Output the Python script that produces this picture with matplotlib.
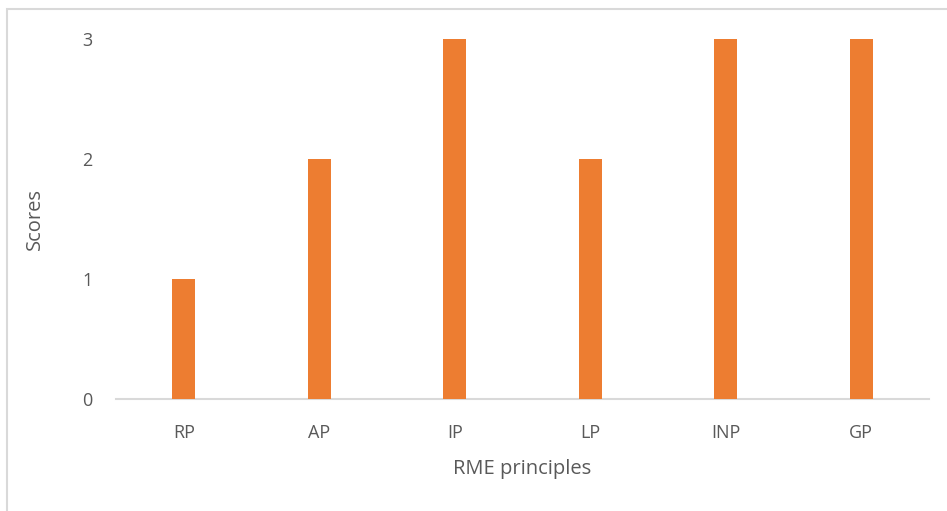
import matplotlib
matplotlib.use("Agg")
import matplotlib.pyplot as plt
from matplotlib.patches import Rectangle

# data
principles = ["RP", "AP", "IP", "LP", "INP", "GP"]
scores = [1, 2, 3, 2, 3, 3]
y_ticks = [0, 1, 2, 3]

bar_color = "#ED7D31"
text_color = "#595959"
line_color = "#D9D9D9"

plt.rcParams['font.family'] = ['Open Sans', 'DejaVu Sans']

fig = plt.figure(figsize=(9.47, 5.11), dpi=100)
W, H = 947, 511
ax = fig.add_axes([116 / W, 1 - 399 / H, (929 - 116) / W, (399 - 39) / H])

x = range(len(principles))
ax.bar(x, scores, width=0.173, color=bar_color, zorder=3)

ax.set_xlim(-0.5, len(principles) - 0.5)
ax.set_ylim(0, 3)
ax.set_yticks(y_ticks)
ax.set_xticks(list(x))
ax.set_xticklabels(principles)

for side in ["top", "right", "left"]:
    ax.spines[side].set_visible(False)
ax.spines["bottom"].set_color(line_color)
ax.spines["bottom"].set_linewidth(1.5)
ax.tick_params(length=0, colors=text_color, labelsize=13)
ax.tick_params(axis="y", pad=17)
ax.tick_params(axis="x", pad=18)

ax.set_ylabel("Scores", color=text_color, fontsize=14.5, labelpad=27)
ax.set_xlabel("RME principles", color=text_color, fontsize=14.5, labelpad=12)

# chart area border (runs past right/bottom edge)
fig.patches.append(Rectangle((7 / W, -0.1), 1.2, 1 - 9 / H + 0.1,
                             transform=fig.transFigure, fill=False,
                             edgecolor=line_color, linewidth=1.5))

fig.savefig("out.png", dpi=100)
